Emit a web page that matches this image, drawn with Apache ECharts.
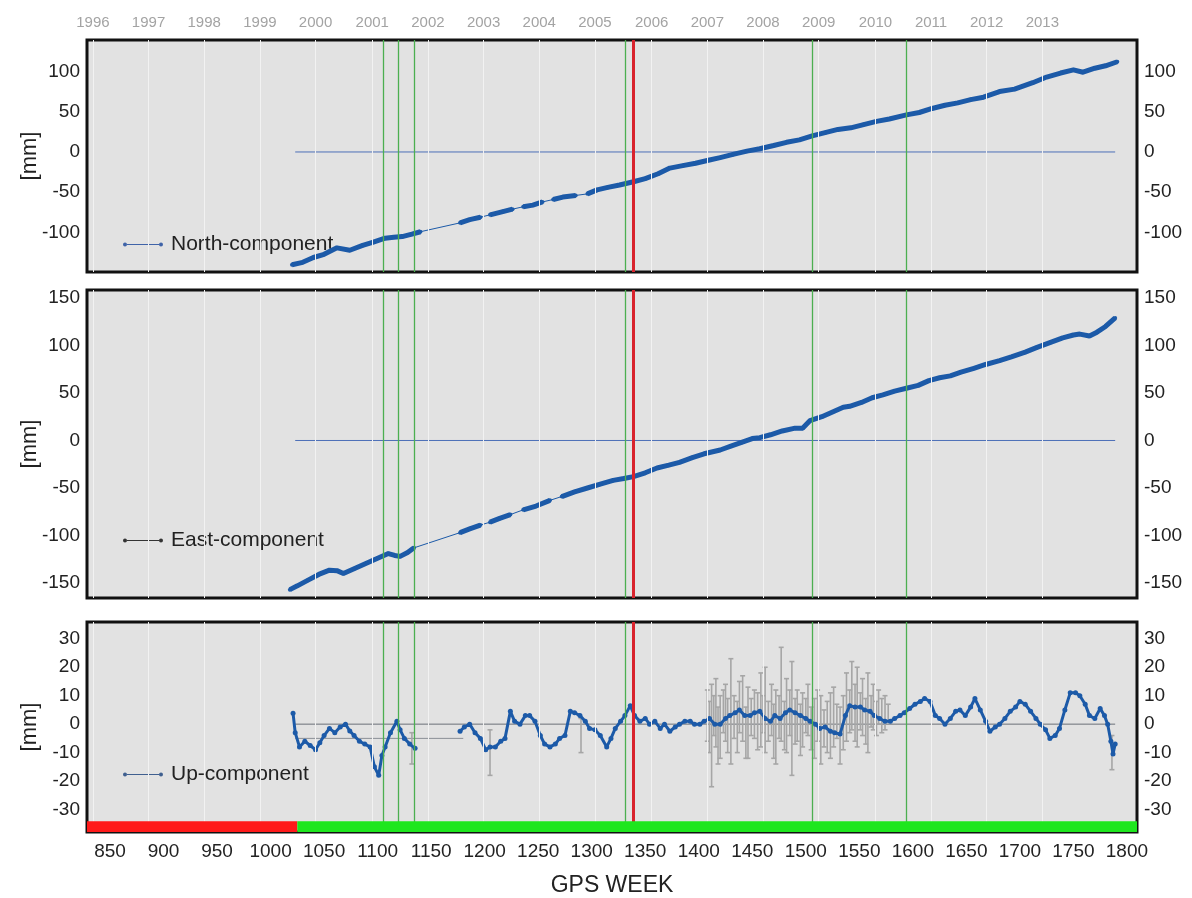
<!DOCTYPE html>
<html><head><meta charset="utf-8">
<script src="https://cdn.jsdelivr.net/npm/echarts@6/dist/echarts.min.js"></script>
<style>html,body{margin:0;padding:0;background:#fff}#c{width:1192px;height:898px}</style>
</head><body><div id="c"></div>
<script>
// ---------- data ----------
const weekTicks = [850,900,950,1000,1050,1100,1150,1200,1250,1300,1350,1400,1450,1500,1550,1600,1650,1700,1750,1800];
const yearLabels = ['1996','1997','1998','1999','2000','2001','2002','2003','2004','2005','2006','2007','2008','2009','2010','2011','2012','2013'];
const yearWeeks = [834,886,938,990,1042,1095,1147,1199,1251,1303,1356,1408,1460,1512,1565,1617,1669,1721];
const northTicks = [-100,-50,0,50,100];
const eastTicks = [-150,-100,-50,0,50,100,150];
const upTicks = [-30,-20,-10,0,10,20,30];

const greenEventWeeks = [1105,1119,1134,1331,1506,1594];
const redEventWeeks = [1338.5];

const refWeeks = [1023,1789];
const refValues = [0,0];
const upRef2Weeks = [1023,1180];
const upRef2Values = [-5,-5];

const statusStart = [828.5,1025];
const statusEnd = [1025,1809.4];
const statusName = ['bad','good'];

const northWeeks = [1020,1030,1040,1050,1062,1074,1086,1096,1107,1115,1123,1132,1140,1158,1177,1186,1196,1200,1205,1217,1226,1232,1236,1245,1254,1258,1264,1273,1285,1290,1296,1305,1315,1326,1339,1350,1362,1373,1385,1397,1410,1420,1432,1445,1457,1470,1482,1494,1506,1518,1530,1542,1554,1566,1578,1594,1606,1618,1630,1642,1654,1666,1681,1695,1712,1725,1738,1750,1759,1770,1780,1791];
const northValues = [-140,-137,-131,-127,-119,-122,-116,-112,-107,-106,-105,-102,-99,null,-88,-84,-81,null,-78,-74,-71,null,-68,-66,-62,null,-59,-56,-54,null,-52,-47,-44,-41,-37,-33,-27,-20,-17,-14,-10,-7,-3,1,4,8,12,15,20,24,28,30,34,38,41,46,49,54,58,61,65,68,75,78,86,93,98,102,99,104,107,112];

const eastWeeks = [1018,1025,1035,1045,1055,1062,1068,1078,1090,1100,1110,1116,1121,1128,1134,1156,1177,1186,1196,1200,1205,1214,1224,1230,1236,1248,1261,1266,1272,1284,1296,1308,1320,1330,1339,1350,1361,1372,1382,1394,1405,1420,1430,1440,1450,1457,1467,1478,1490,1497,1504,1515,1525,1535,1541,1552,1562,1572,1583,1594,1605,1615,1625,1635,1645,1657,1668,1681,1692,1705,1716,1728,1740,1750,1756,1765,1772,1780,1789];
const eastValues = [-157,-153,-147,-141,-136.5,-137,-140,-135,-129,-124,-119,-121,-122,-118,-113,null,-97,-93,-89,null,-86,-82,-78,null,-73,-69,-63,null,-59,-54,-50,-46,-42,-40,-38,-34,-29,-26,-23,-18,-14,-10,-6,-2,2,3,6,10,13,13,21,25,30,35,36,40,45,48,52,55,58,63,66,68,72,76,80,84,88,93,98,103,108,111,112,110,114,120,129];

const upWeeks = [1021,1023,1027,1032,1037,1042,1046,1050,1055,1060,1065,1070,1074,1078,1083,1088,1093,1097,1101,1104,1107,1112,1118,1121,1125,1130,1135,1156,1177,1181,1186,1191,1196,1201,1205,1210,1215,1219,1224,1228,1233,1238,1242,1247,1252,1256,1261,1266,1270,1275,1280,1284,1289,1294,1298,1303,1308,1314,1318,1322,1327,1331,1336,1340,1345,1350,1354,1359,1364,1368,1373,1378,1382,1387,1392,1396,1401,1405,1410,1415,1420,1425,1429,1434,1438,1443,1448,1452,1457,1462,1467,1471,1476,1481,1485,1490,1495,1500,1504,1509,1513,1518,1523,1527,1532,1537,1541,1546,1551,1555,1560,1564,1569,1574,1579,1583,1588,1592,1597,1602,1607,1611,1616,1621,1625,1630,1635,1640,1644,1649,1654,1658,1663,1668,1672,1677,1681,1686,1691,1696,1700,1705,1710,1715,1719,1724,1728,1733,1737,1742,1747,1752,1756,1761,1765,1770,1775,1779,1782,1785,1787,1789];
const upValues = [3.8,-3,-8,-6,-7.5,-9,-6.5,-4,-1.5,-3,-1,0,-2.4,-4,-6,-7,-8,-15,-18,-11,-8,-3,1,-2,-5,-7,-8.5,null,-2.5,-1,0,-3,-5,-9,-8,-8,-6,-5,4.5,1,0,3,3,1,-4,-7,-8,-7,-5,-4,4.5,4,3,1,-1.5,-2,-4,-8,-5,-1.5,1,3,6.5,3,1,2,0,1,-1.5,0,-2.5,-1,0,1,1,0,0,1,2,0,0,2,3,4,5,3,3,4,4.5,2,1,3,2,4,5,4,3,2,1,0,-1.5,-1,-2.5,-3,-3.5,3,6.5,6,6,5,4.5,3,2,1,1,2,3,4,5.5,7,8,9,8,3,2,0,2,4.5,5,3,6,9,5,1,-2.5,-1,0,2,4.5,6,8,7,4.5,2,0,-2,-5,-4,-1.5,5,11,11,10,7,3,2,5.5,3,0,-6,-10.5,-7];

const errWeeks = [1132,1205,1290,1408,1410,1412,1414,1416,1418,1420,1423,1425,1427,1430,1433,1436,1438,1441,1444,1446,1449,1452,1455,1458,1460,1462,1465,1468,1470,1472,1475,1477,1480,1482,1485,1487,1490,1492,1495,1497,1500,1502,1505,1508,1511,1514,1517,1520,1523,1526,1529,1532,1535,1538,1541,1543,1546,1548,1551,1553,1556,1558,1561,1563,1566,1568,1571,1574,1577,1786];
const errLow =  [-14,-18,-10,-6,-10,-22,-4,-8,-14,-12,-3,-6,-10,-14,-5,-10,-3,-6,-12,-12,-4,-5,-9,-8,-3,-10,-6,-4,-12,-14,-5,-6,-9,-10,-4,-18,-7,-6,-11,-8,-3,-4,-9,-12,-6,-14,-8,-10,-12,-8,-5,-14,-9,-6,-3,-2,-6,-8,-2,-4,-7,-10,-1,-2,-4,0,-3,-2,1,-16];
const errHigh = [-3,-2,2,12,8,14,10,16,6,10,12,14,9,23,10,8,15,17,6,13,9,12,11,18,10,20,8,14,7,12,10,27,8,16,12,22,9,12,7,11,9,14,6,9,12,10,5,8,11,13,7,6,10,18,12,22,14,20,11,16,9,18,10,14,8,12,9,10,7,-4];

// ---------- helpers ----------
const FONT = "'Liberation Sans Narrow','Liberation Sans',Arial,sans-serif";
const X_MIN = 828.5, X_MAX = 1809.4;
const pairs = (ws, vs) => ws.map((w, i) => [w, vs[i]]);
const nonNull = (ws, vs) => ws.map((w, i) => [w, vs[i]]).filter(p => p[1] !== null);
const BLUE = '#1c5aa8';
const legendIcon = 'path://M0,2a2,2 0 1,0 4,0a2,2 0 1,0 -4,0z M4,1.6h32v0.8h-32z M36,2a2,2 0 1,0 4,0a2,2 0 1,0 -4,0z';

function eventLines() {
  const d = [];
  yearWeeks.forEach(w => d.push({xAxis: w, lineStyle: {color: '#f2f2f2', width: 1, type: 'solid'}}));
  greenEventWeeks.forEach(w => d.push({xAxis: w, lineStyle: {color: '#4caf50', width: 1.3, type: 'solid'}}));
  redEventWeeks.forEach(w => d.push({xAxis: w, lineStyle: {color: '#d9232d', width: 3, type: 'solid'}}));
  return {silent: true, symbol: ['none', 'none'], label: {show: false}, animation: false, data: d};
}

const grids = [
  {left: 87, right: 55, top: 40, height: 232},
  {left: 87, right: 55, top: 290, height: 308},
  {left: 87, right: 55, top: 622, height: 214}
].map(g => Object.assign(g, {show: true, backgroundColor: '#e2e2e2', borderColor: '#111', borderWidth: 3, containLabel: false}));

const hiddenX = gi => ({type: 'value', gridIndex: gi, min: X_MIN, max: X_MAX, axisLine: {show: false}, axisTick: {show: false}, axisLabel: {show: false}, splitLine: {show: false}});

const xAxes = [
  hiddenX(0),
  {type: 'value', gridIndex: 0, position: 'top', min: X_MIN, max: X_MAX, axisLine: {show: false}, axisTick: {show: false}, splitLine: {show: false},
    axisLabel: {customValues: yearWeeks, formatter: v => yearLabels[yearWeeks.indexOf(v)] || '', color: '#a3a3a3', fontSize: 15, fontFamily: FONT, margin: 10}},
  hiddenX(1),
  {type: 'value', gridIndex: 2, min: X_MIN, max: X_MAX, axisLine: {show: false}, axisTick: {show: false}, splitLine: {show: false},
    axisLabel: {customValues: weekTicks, formatter: v => String(v), color: '#222', fontSize: 19, fontFamily: FONT, margin: 10},
    name: 'GPS WEEK', nameLocation: 'middle', nameGap: 42, nameTextStyle: {color: '#222', fontSize: 23, fontFamily: FONT}}
];

function yPair(gi, min, max, ticks) {
  const common = {type: 'value', gridIndex: gi, min, max, axisLine: {show: false}, axisTick: {show: false},
    splitLine: {show: false}};
  return [
    Object.assign({}, common, {position: 'left', axisLabel: {customValues: ticks, color: '#222', fontSize: 19, fontFamily: FONT, margin: 7},
      name: '[mm]', nameLocation: 'middle', nameGap: 46, nameMoveOverlap: false, nameRotate: 90, nameTextStyle: {color: '#222', fontSize: 22, fontFamily: FONT}}),
    Object.assign({}, common, {position: 'right', axisLabel: {customValues: ticks, color: '#222', fontSize: 19, fontFamily: FONT, margin: 7}})
  ];
}
const yAxes = [].concat(yPair(0, -149, 139, northTicks), yPair(1, -165.8, 158.4, eastTicks), yPair(2, -37.9, 35.9, upTicks));

function refSeries(xi, yi, color, withEvents) {
  const s = {type: 'line', xAxisIndex: xi, yAxisIndex: yi, data: pairs(refWeeks, refValues), symbol: 'none', silent: true,
    lineStyle: {color, width: 1}, z: 2, animation: false};
  if (withEvents) s.markLine = eventLines();
  return s;
}

const series = [
  // North
  refSeries(0, 0, '#4d70b8', true),
  {type: 'line', xAxisIndex: 0, yAxisIndex: 0, data: nonNull(northWeeks, northValues), symbol: 'none', silent: true, lineStyle: {color: BLUE, width: 1}, z: 3, animation: false},
  {name: 'North-component', type: 'line', xAxisIndex: 0, yAxisIndex: 0, data: pairs(northWeeks, northValues), symbol: 'circle', symbolSize: 4, showSymbol: true,
    itemStyle: {color: BLUE}, lineStyle: {color: BLUE, width: 5}, z: 4, animation: false},
  // East
  refSeries(2, 2, '#4d70b8', true),
  {type: 'line', xAxisIndex: 2, yAxisIndex: 2, data: nonNull(eastWeeks, eastValues), symbol: 'none', silent: true, lineStyle: {color: BLUE, width: 1}, z: 3, animation: false},
  {name: 'East-component', type: 'line', xAxisIndex: 2, yAxisIndex: 2, data: pairs(eastWeeks, eastValues), symbol: 'circle', symbolSize: 4,
    itemStyle: {color: BLUE}, lineStyle: {color: BLUE, width: 5}, z: 4, animation: false},
  // Up
  refSeries(3, 4, '#6b7078', true),
  {type: 'line', xAxisIndex: 3, yAxisIndex: 4, data: pairs(upRef2Weeks, upRef2Values), symbol: 'none', silent: true, lineStyle: {color: '#8a8f96', width: 1}, z: 2, animation: false},
  {type: 'custom', xAxisIndex: 3, yAxisIndex: 4, silent: true, z: 3, animation: false,
    data: errWeeks.map((w, i) => [w, errLow[i], errHigh[i]]),
    encode: {x: 0, y: [1, 2]},
    renderItem(params, api) {
      const x = api.value(0);
      const p1 = api.coord([x, api.value(1)]), p2 = api.coord([x, api.value(2)]);
      const st = {stroke: '#a6a6a6', lineWidth: 1.6};
      return {type: 'group', children: [
        {type: 'line', shape: {x1: p1[0], y1: p1[1], x2: p2[0], y2: p2[1]}, style: st},
        {type: 'line', shape: {x1: p1[0] - 2.5, y1: p1[1], x2: p1[0] + 2.5, y2: p1[1]}, style: st},
        {type: 'line', shape: {x1: p2[0] - 2.5, y1: p2[1], x2: p2[0] + 2.5, y2: p2[1]}, style: st}
      ]};
    }},
  {name: 'Up-component', type: 'line', xAxisIndex: 3, yAxisIndex: 4, data: pairs(upWeeks, upValues), symbol: 'circle', symbolSize: 5,
    itemStyle: {color: BLUE}, lineStyle: {color: BLUE, width: 3}, z: 4, animation: false},
  // status bar
  {type: 'line', xAxisIndex: 3, yAxisIndex: 4, data: [], silent: true, z: 10, animation: false,
    markArea: {silent: true, z: 10, data: statusStart.map((s, i) => [
      {xAxis: s, yAxis: -37.9, itemStyle: {color: statusName[i] === 'bad' ? '#ff1a1a' : '#1ee61e', opacity: 1}},
      {xAxis: statusEnd[i], yAxis: -34.1}
    ])}}
];

function legendFor(name, top, iconColor) {
  return {data: [{name, itemStyle: {color: iconColor}, lineStyle: {color: iconColor}}], left: 118, top, icon: legendIcon, itemWidth: 40, itemHeight: 4,
    textStyle: {fontSize: 21, color: '#222', fontFamily: FONT, padding: [0, 0, 0, 3]}, selectedMode: false};
}

const chart = echarts.init(document.getElementById('c'), null, {renderer: 'canvas'});
chart.setOption({
  animation: false,
  backgroundColor: '#fff',
  textStyle: {fontFamily: FONT},
  grid: grids,
  xAxis: xAxes,
  yAxis: yAxes,
  legend: [legendFor('North-component', 229, '#3f63a8'), legendFor('East-component', 525, '#333'), legendFor('Up-component', 759, '#3f5f8f')],
  series
});
</script></body></html>
